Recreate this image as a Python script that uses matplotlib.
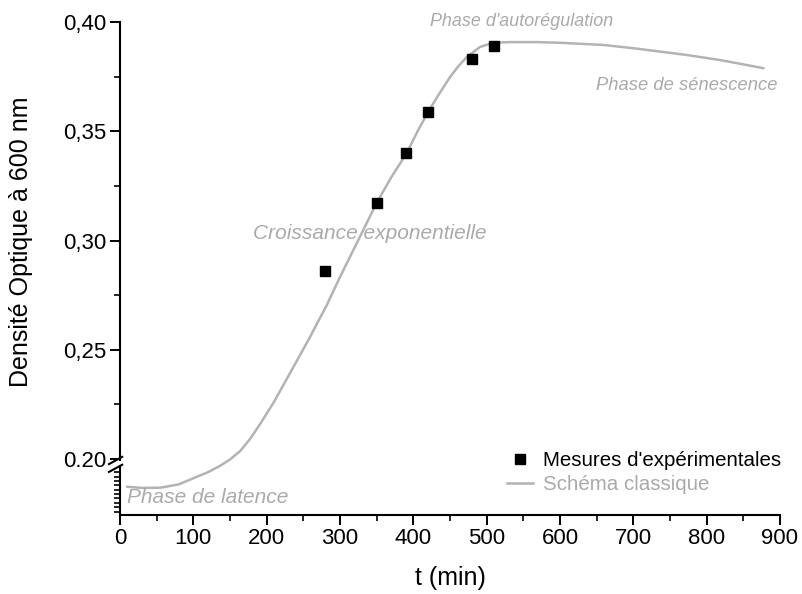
import matplotlib
matplotlib.use("Agg")
import matplotlib.pyplot as plt
from matplotlib.ticker import FixedLocator
from matplotlib.lines import Line2D

plt.rcParams['font.family'] = ['Liberation Sans', 'DejaVu Sans']

# Experimental measurements
meas_t = [280, 350, 390, 420, 480, 510]
meas_od = [0.286, 0.317, 0.340, 0.359, 0.383, 0.389]

# Classic growth curve
curve_t = [10, 30, 55, 80, 100, 120, 136, 150, 164, 178, 191, 209, 232, 259, 282,
           300, 327, 350, 370, 391, 405, 420, 435, 450, 462, 473, 491, 509, 532,
           568, 600, 659, 700, 773, 820, 877]
curve_od = [0.1873, 0.1868, 0.1869, 0.1884, 0.1912, 0.1940, 0.1968, 0.1998, 0.2037,
            0.2095, 0.2160, 0.2256, 0.2394, 0.2558, 0.2705, 0.2833, 0.3016, 0.3172,
            0.3290, 0.3400, 0.3495, 0.3588, 0.3670, 0.3748, 0.3800, 0.3840, 0.3886,
            0.3905, 0.3908, 0.3908, 0.3905, 0.3895, 0.3880, 0.3849, 0.3825, 0.3789]

xticks = [0, 100, 200, 300, 400, 500, 600, 700, 800, 900]
yticks = [0.20, 0.25, 0.30, 0.35, 0.40]
ytick_labels = ["0.20", "0,25", "0,30", "0,35", "0,40"]
yminor = [0.176, 0.178, 0.180, 0.182, 0.184, 0.186, 0.188, 0.190, 0.192, 0.194,
          0.225, 0.275, 0.325, 0.375]

gray = "#b3b3b3"
text_gray = "#aaaaaa"

fig = plt.figure(figsize=(8.02, 5.94), dpi=100)
ax = fig.add_axes([120/802, 1-515/594, 660/802, (515-22)/594])

ax.plot(curve_t, curve_od, color=gray, lw=1.8, zorder=2)
ax.plot(meas_t, meas_od, ls="none", marker="s", ms=7.5, color="black", zorder=3)

ax.set_xlim(0, 900)
ax.set_ylim(0.1744, 0.40)

ax.set_xticks(xticks)
ax.set_xticks([50, 150, 250, 350, 450, 550, 650, 750, 850], minor=True)
ax.set_yticks(yticks)
ax.set_yticklabels(ytick_labels)
ax.yaxis.set_minor_locator(FixedLocator(yminor))

ax.tick_params(which="major", direction="out", length=7.2, width=1.4, labelsize=16,
               colors="black", pad=2.5)
ax.tick_params(which="minor", direction="out", length=4.3, width=1.2)

for s in ["top", "right", "left"]:
    ax.spines[s].set_visible(False)
ax.spines["bottom"].set_linewidth(1.5)

# broken left spine
ax.plot([0, 0], [0.1744, 0.1966], color="black", lw=1.5, clip_on=False, zorder=5)
ax.plot([0, 0], [0.1995, 0.40], color="black", lw=1.5, clip_on=False, zorder=5)
ax.plot([-15, 3], [0.1977, 0.2010], color="black", lw=1.5, clip_on=False, zorder=5)
ax.plot([-15, 3], [0.1941, 0.1974], color="black", lw=1.5, clip_on=False, zorder=5)

ax.set_xlabel("t (min)", fontsize=18, labelpad=12)
ax.set_ylabel("Densité Optique à 600 nm", fontsize=18)
ax.yaxis.set_label_coords(-0.132, 0.555)

# annotations
ax.text(548, 0.4003, "Phase d'autorégulation", style="italic", color=text_gray,
        fontsize=12.9, ha="center", va="center")
ax.text(896, 0.3708, "Phase de sénescence", style="italic", color=text_gray,
        fontsize=13.2, ha="right", va="center")
ax.text(341, 0.3030, "Croissance exponentielle", style="italic", color=text_gray,
        fontsize=15, ha="center", va="center")
ax.text(9, 0.1826, "Phase de latence", style="italic", color=text_gray,
        fontsize=15, ha="left", va="center")

leg = ax.legend(handles=[
    Line2D([], [], ls="none", marker="s", ms=6.5, color="black"),
    Line2D([], [], color=gray, lw=1.8)],
    labels=["Mesures d'expérimentales", "Schéma classique"],
    loc="lower right", bbox_to_anchor=(1.0136, 0.025), frameon=False, fontsize=14.8,
    handlelength=1.3, handletextpad=0.45, labelspacing=0.25, borderaxespad=0)
leg.get_texts()[1].set_color(text_gray)

fig.savefig("out.png", dpi=100)
